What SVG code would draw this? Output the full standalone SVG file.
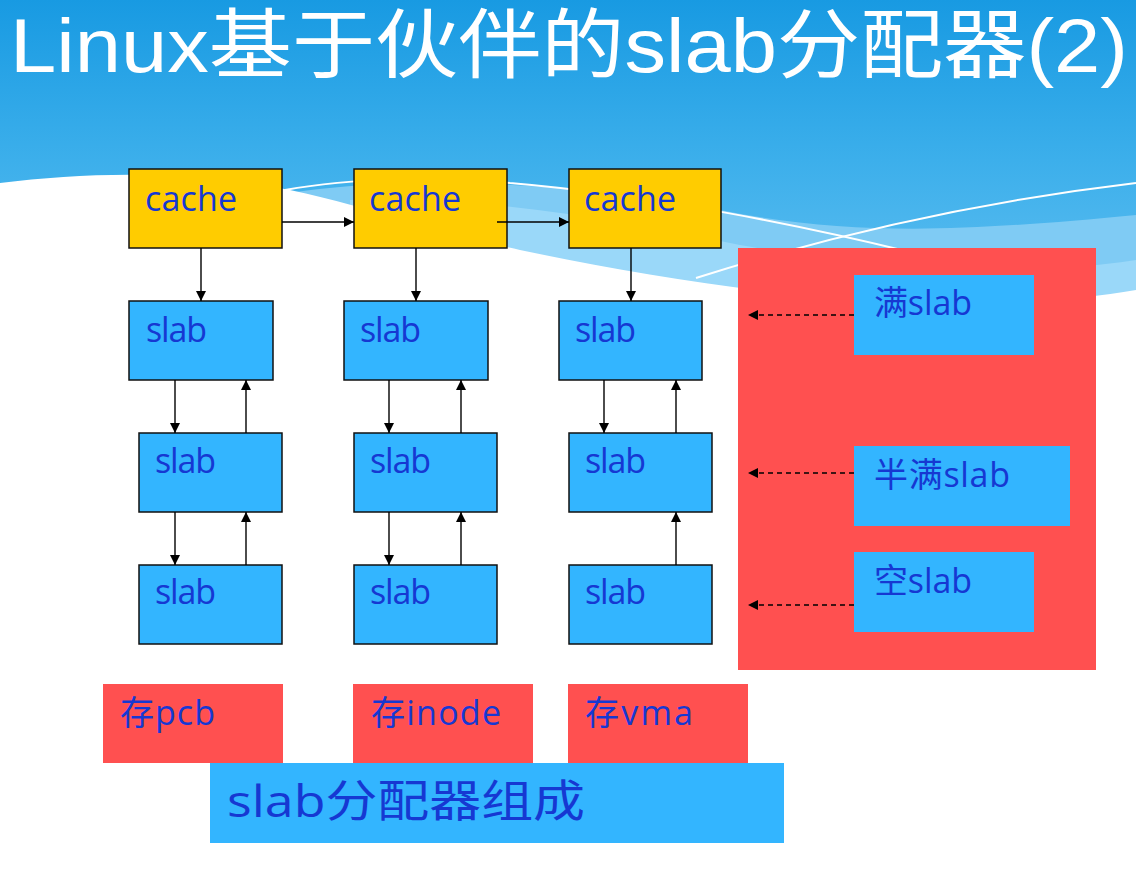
<svg xmlns="http://www.w3.org/2000/svg" width="1136" height="880" viewBox="0 0 1136 880">
<defs>
<linearGradient id="sky" x1="0" y1="0" x2="0" y2="1">
<stop offset="0" stop-color="#189ae2"/>
<stop offset="0.5" stop-color="#3cafeb"/>
<stop offset="1" stop-color="#62c0f1"/>
</linearGradient>
<marker id="ah" viewBox="0 0 10 10" refX="10" refY="5" markerWidth="10" markerHeight="10" markerUnits="userSpaceOnUse" orient="auto">
<path d="M0,0 L10,5 L0,10 Z" fill="#000"/>
</marker>
<style>
.cache{fill:#ffcc00;stroke:#111;stroke-width:1.5}
.slab{fill:#33b5ff;stroke:#111;stroke-width:1.5}
.red{fill:#ff5050}
.blue{fill:#33b5ff}
.t{font-family:"Open Sans","Noto Sans CJK SC",sans-serif;font-size:34px;fill:#1638d2}
.big{font-size:44px}
.ttl{font-family:"Liberation Sans","Noto Sans CJK SC",sans-serif;font-size:76px;fill:#ffffff}
.c{stroke:#000;stroke-width:1.4;fill:none;marker-end:url(#ah)}
.d{stroke:#000;stroke-width:1.4;fill:none;stroke-dasharray:5,4;marker-end:url(#ah)}
</style>
</defs>
<g id="background">
<rect x="0" y="0" width="1136" height="320" fill="url(#sky)"/>
<path d="M270,196 C380,176 560,178 720,210 C850,236 960,232 1136,215 L1136,320 L270,320 Z" fill="#7fcbf4"/>
<path d="M350,200 C460,195 600,215 740,245 C880,270 1000,280 1136,260 L1136,320 L350,320 Z" fill="#9ad8f9"/>
<path d="M0,183 C90,172 190,170 290,190 C380,210 450,235 520,250 C640,275 760,295 900,302 C1000,306 1080,300 1136,290 L1136,880 L0,880 Z" fill="#ffffff"/>
<path d="M285,190 C350,178 450,176 510,183 C650,195 800,225 910,252" fill="none" stroke="#ffffff" stroke-width="2"/>
<path d="M696,278 C800,245 950,205 1136,183" fill="none" stroke="#ffffff" stroke-width="2"/>
</g>
<g id="title">
<text class="ttl" x="10" y="72" textLength="1118" lengthAdjust="spacingAndGlyphs">Linux基于伙伴的slab分配器(2)</text>
</g>
<g id="cache1"><rect class="cache" x="129" y="169" width="153" height="79"/><text class="t" x="145" y="211" textLength="92">cache</text></g>
<g id="cache2"><rect class="cache" x="354" y="169" width="153" height="79"/><text class="t" x="369" y="211" textLength="92">cache</text></g>
<g id="cache3"><rect class="cache" x="569" y="169" width="152" height="79"/><text class="t" x="584" y="211" textLength="92">cache</text></g>
<g id="slab1a"><rect class="slab" x="129" y="301" width="144" height="79"/><text class="t" x="146" y="342" textLength="61">slab</text></g>
<g id="slab1b"><rect class="slab" x="139" y="433" width="143" height="79"/><text class="t" x="155" y="473" textLength="61">slab</text></g>
<g id="slab1c"><rect class="slab" x="139" y="565" width="143" height="79"/><text class="t" x="155" y="604" textLength="61">slab</text></g>
<g id="slab2a"><rect class="slab" x="344" y="301" width="144" height="79"/><text class="t" x="360" y="342" textLength="61">slab</text></g>
<g id="slab2b"><rect class="slab" x="354" y="433" width="143" height="79"/><text class="t" x="370" y="473" textLength="61">slab</text></g>
<g id="slab2c"><rect class="slab" x="354" y="565" width="143" height="79"/><text class="t" x="370" y="604" textLength="61">slab</text></g>
<g id="slab3a"><rect class="slab" x="559" y="301" width="143" height="79"/><text class="t" x="575" y="342" textLength="61">slab</text></g>
<g id="slab3b"><rect class="slab" x="569" y="433" width="143" height="79"/><text class="t" x="585" y="473" textLength="61">slab</text></g>
<g id="slab3c"><rect class="slab" x="569" y="565" width="143" height="79"/><text class="t" x="585" y="604" textLength="61">slab</text></g>
<g id="lists">
<rect class="red" x="738" y="248" width="358" height="422"/>
</g>
<g id="full"><rect class="blue" x="854" y="275" width="180" height="80"/><text class="t" x="874" y="315" textLength="98">满slab</text></g>
<g id="partial"><rect class="blue" x="854" y="446" width="216" height="80"/><text class="t" x="874" y="487" textLength="136">半满slab</text></g>
<g id="empty"><rect class="blue" x="854" y="552" width="180" height="80"/><text class="t" x="874" y="593" textLength="98">空slab</text></g>
<g id="pcb"><rect class="red" x="103" y="684" width="180" height="79"/><text class="t" x="120" y="725" textLength="95">存pcb</text></g>
<g id="inode"><rect class="red" x="353" y="684" width="180" height="79"/><text class="t" x="371" y="725" textLength="130">存inode</text></g>
<g id="vma"><rect class="red" x="568" y="684" width="180" height="79"/><text class="t" x="585" y="725" textLength="108">存vma</text></g>
<g id="caption"><rect class="blue" x="210" y="763" width="574" height="80"/><text class="t big" x="227" y="817" textLength="358" lengthAdjust="spacingAndGlyphs">slab分配器组成</text></g>
<g id="connectors">
<line class="c" x1="282" y1="222" x2="354" y2="222"/>
<line class="c" x1="497" y1="222" x2="569" y2="222"/>
<line class="c" x1="201" y1="248" x2="201" y2="301"/>
<line class="c" x1="416" y1="248" x2="416" y2="301" stroke="#555"/>
<line class="c" x1="631" y1="248" x2="631" y2="301"/>
<line class="c" x1="175" y1="380" x2="175" y2="433"/>
<line class="c" x1="175" y1="512" x2="175" y2="565"/>
<line class="c" x1="246" y1="433" x2="246" y2="380"/>
<line class="c" x1="246" y1="565" x2="246" y2="512"/>
<line class="c" x1="389" y1="380" x2="389" y2="433"/>
<line class="c" x1="389" y1="512" x2="389" y2="565"/>
<line class="c" x1="461" y1="433" x2="461" y2="380"/>
<line class="c" x1="461" y1="565" x2="461" y2="512"/>
<line class="c" x1="604" y1="380" x2="604" y2="433"/>
<line class="c" x1="676" y1="433" x2="676" y2="380"/>
<line class="c" x1="676" y1="565" x2="676" y2="512"/>
<line class="d" x1="854" y1="315" x2="748" y2="315"/>
<line class="d" x1="854" y1="473" x2="748" y2="473"/>
<line class="d" x1="854" y1="605" x2="748" y2="605"/>
</g>
</svg>
